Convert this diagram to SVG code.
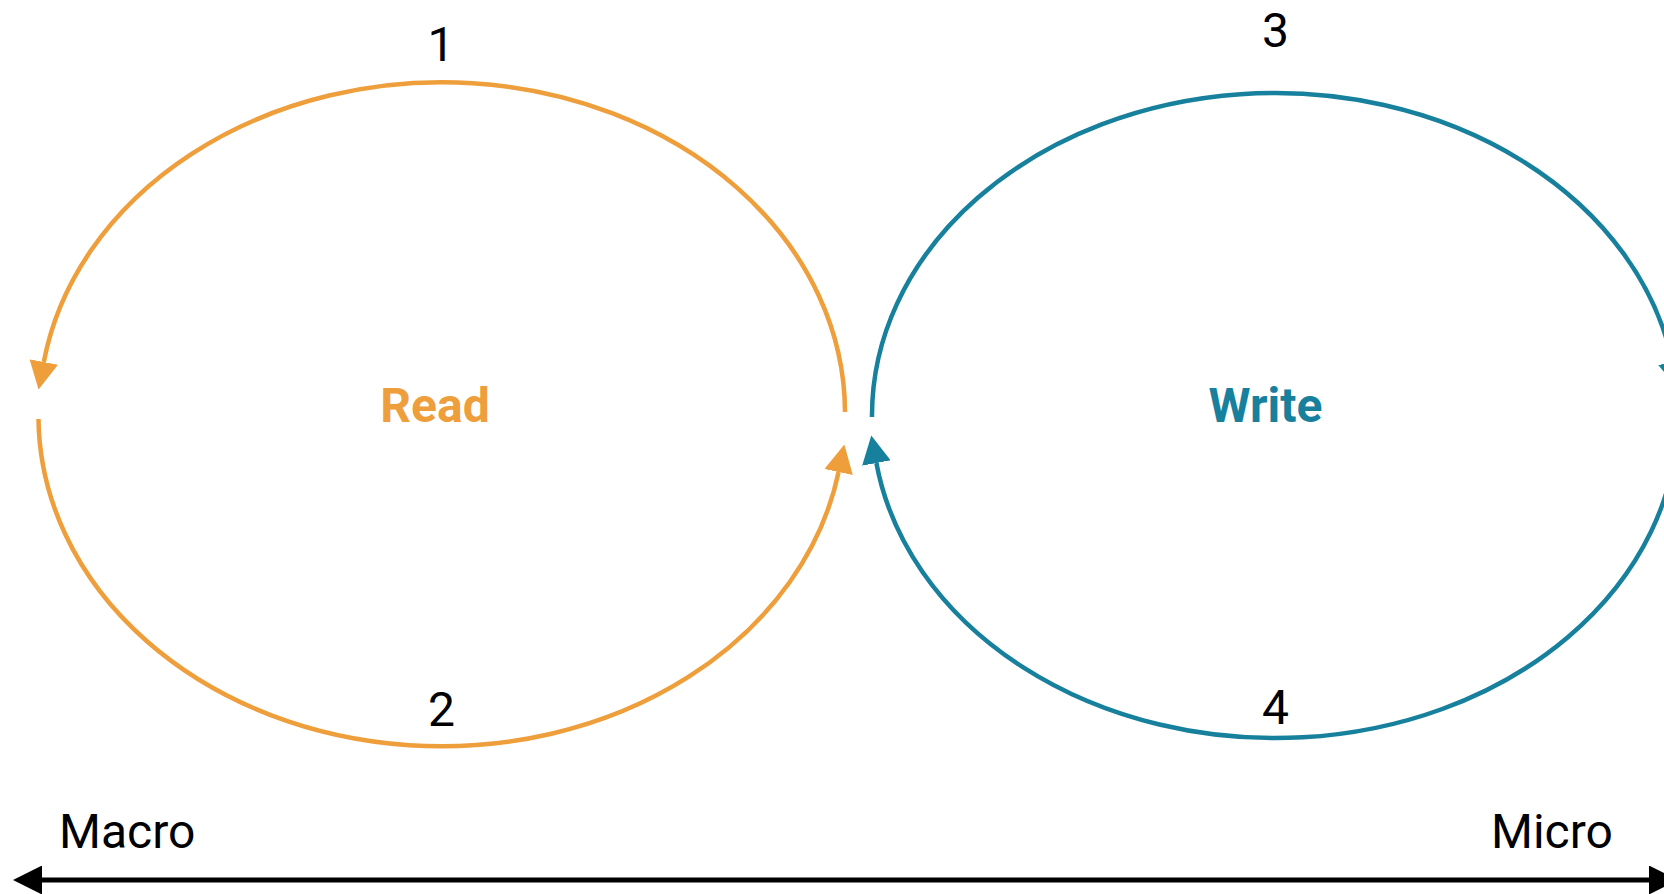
<svg xmlns="http://www.w3.org/2000/svg" width="1664" height="894" viewBox="0 0 1664 894">
<style>
.num{font-family:Roboto,"Liberation Sans",sans-serif;font-size:48px;fill:#000;text-anchor:middle}
.lbl{font-family:Roboto,"Liberation Sans",sans-serif;font-size:48px;fill:#000}
.title{font-family:Roboto,"Liberation Sans",sans-serif;font-size:48px;font-weight:bold;text-anchor:middle}
.o{fill:none;stroke:#EE9E3B;stroke-width:4.5}
.t{fill:none;stroke:#17809D;stroke-width:4.5}
</style>
<defs>
<marker id="ao" markerUnits="userSpaceOnUse" markerWidth="28" markerHeight="29" viewBox="0 0 28 29" refX="0" refY="14.5" orient="auto"><path d="M0,0 L28,14.5 L0,29 z" fill="#EE9E3B"/></marker>
<marker id="at" markerUnits="userSpaceOnUse" markerWidth="28" markerHeight="29" viewBox="0 0 28 29" refX="0" refY="14.5" orient="auto"><path d="M0,0 L28,14.5 L0,29 z" fill="#17809D"/></marker>
<marker id="ak" markerUnits="userSpaceOnUse" markerWidth="29" markerHeight="29" viewBox="0 0 29 29" refX="0" refY="14.5" orient="auto-start-reverse"><path d="M0,0 L29,14.5 L0,29 z" fill="#000"/></marker>
</defs>
<g id="connectors">
<path class="o" d="M 845 412 A 403 330.5 0 0 0 43.8 362" marker-end="url(#ao)"/>
<path class="o" d="M 38.5 419 A 403 330.5 0 0 0 838.6 472" marker-end="url(#ao)"/>
<path class="t" d="M 872 417 A 403 322.5 0 0 1 1672.4 362" marker-end="url(#at)"/>
<path class="t" d="M 1678 419 A 403 322.5 0 0 1 876.4 463" marker-end="url(#at)"/>
<line x1="42" y1="880" x2="1649" y2="880" stroke="#000" stroke-width="5" marker-start="url(#ak)" marker-end="url(#ak)"/>
</g>
<g id="read"><text class="title" x="435" y="422" fill="#EE9E3B">Read</text></g>
<g id="write"><text class="title" x="1265.5" y="422" fill="#17809D">Write</text></g>
<g id="n1"><text class="num" x="441" y="61">1</text></g>
<g id="n2"><text class="num" x="441.5" y="726">2</text></g>
<g id="n3"><text class="num" x="1275.5" y="46.5">3</text></g>
<g id="n4"><text class="num" x="1275.5" y="724">4</text></g>
<g id="macro"><text class="lbl" x="59" y="848">Macro</text></g>
<g id="micro"><text class="lbl" x="1491" y="848">Micro</text></g>
</svg>
